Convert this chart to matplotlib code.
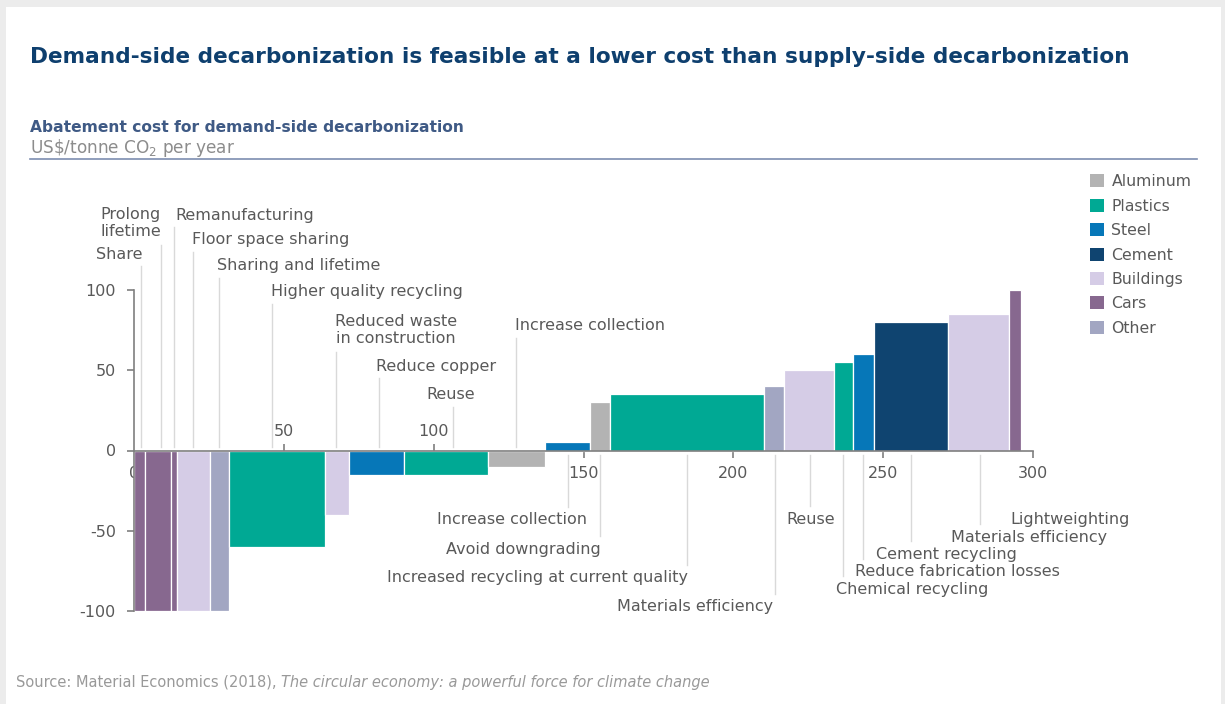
import matplotlib
matplotlib.use("Agg")
import matplotlib.pyplot as plt
from matplotlib.patches import Patch, Rectangle
from matplotlib.lines import Line2D
import numpy as np

# sector colours
palette = {
    "Aluminum": "#b3b3b3",
    "Plastics": "#00a994",
    "Steel": "#0677b8",
    "Cement": "#0f4470",
    "Buildings": "#d5cce6",
    "Cars": "#87688f",
    "Other": "#a2a6c2",
}

# abatement levers, sorted by cost
sectors = ["Cars", "Cars", "Cars", "Buildings", "Other", "Plastics", "Buildings",
           "Steel", "Plastics", "Aluminum", "Steel", "Aluminum", "Plastics", "Other",
           "Buildings", "Plastics", "Steel", "Cement", "Buildings", "Cars"]
measures = ["Share", "Prolong\nlifetime", "Remanufacturing", "Floor space sharing",
            "Sharing and lifetime", "Higher quality recycling",
            "Reduced waste\nin construction", "Reduce copper", "Reuse",
            "Increase collection", "Increase collection", "Avoid downgrading",
            "Increased recycling at current quality", "Materials efficiency", "Reuse",
            "Chemical recycling", "Reduce fabrication losses", "Cement recycling",
            "Materials efficiency", "Lightweighting"]
# abatement volume (bar width) and cost in US$/tonne CO2 (bar height)
volume = [3.6, 8.7, 2.2, 10.8, 6.5, 31.8, 8.0, 18.6, 27.8, 19.2,
          15.1, 6.7, 51.4, 6.6, 16.5, 6.5, 7.0, 24.7, 20.3, 4.0]
cost = [-100, -100, -100, -100, -100, -60, -40, -15, -15, -10,
        5, 30, 35, 40, 50, 55, 60, 80, 85, 100]

# where each lever name sits and where its leader line drops
label_x = [3.0, 9.0, 13.7, 19.4, 27.7, 45.7, 67.1, 80.8, 105.8, 127.2,
           151.3, 155.9, 185.0, 213.4, 225.7, 234.4, 240.7, 247.7, 272.5, 292.5]
label_y = [122.4, 141.7, 146.7, 131.2, 115.0, 98.8, 75.1, 52.6, 34.6, 77.6,
           -43.3, -61.4, -79.4, -97.5, -42.7, -86.3, -75.7, -64.5, -53.9, -42.7]
label_ha = ["right", "right", "left", "left", "left", "left", "left", "left", "center", "left",
            "right", "right", "right", "right", "center", "left", "left", "left", "left", "left"]
leader_x = [2.2, 8.9, 13.5, 19.8, 28.5, 46.0, 67.4, 81.6, 106.3, 127.4,
            144.7, 155.6, 184.6, 213.8, 225.7, 236.6, 243.2, 259.2, 282.4, None]

legend_order = ["Aluminum", "Plastics", "Steel", "Cement", "Buildings", "Cars", "Other"]

W, H = 1225, 704
TEXT = "#595959"
fig = plt.figure(figsize=(W / 100, H / 100), dpi=100, facecolor="#ececec")
plt.rcParams["font.family"] = ["DejaVu Sans"]

# white card with a soft shadow
fig.patches.append(Rectangle((8 / W, 0), (1216 - 8) / W + 5 / W, 1 - 9 / H, transform=fig.transFigure,
                             facecolor="#d4d4d4", edgecolor="none", zorder=-10))
fig.patches.append(Rectangle((6 / W, 0), (1221 - 6) / W, 1 - 7 / H, transform=fig.transFigure,
                             facecolor="white", edgecolor="none", zorder=-9))

fig.text(30 / W, 1 - 57 / H,
         "Demand-side decarbonization is feasible at a lower cost than supply-side decarbonization",
         fontsize=15.6, fontweight="bold", color="#0e3f6e", va="center", ha="left")
fig.text(30 / W, 1 - 128 / H, "Abatement cost for demand-side decarbonization",
         fontsize=11.15, fontweight="bold", color="#3f5a85", va="center")
fig.text(30 / W, 1 - 148 / H, r"US\$/tonne CO$_2$ per year",
         fontsize=12.2, color="#8c8c8c", va="center")
fig.add_artist(Line2D([30 / W, 1197 / W], [1 - 159 / H] * 2, color="#7d8db0", lw=1.2))

ax = fig.add_axes([134 / W, 1 - 611 / H, 899 / W, (611 - 290) / H])
ax.patch.set_alpha(0)
ax.set_xlim(0, 300)
ax.set_ylim(-100, 100)

left = np.concatenate([[0], np.cumsum(volume)[:-1]])
colors = [palette[s] for s in sectors]
ax.bar(left, cost, width=volume, align="edge", color=colors,
       edgecolor="white", linewidth=0.9, zorder=2)

# leader lines and lever names
for i, name in enumerate(measures):
    n_lines = name.count("\n") + 1
    if cost[i] < 0:
        y0, y1 = 2.4, label_y[i] - 7.5 - 6.2 * (n_lines - 1)
    else:
        y0, y1 = -3.0, label_y[i] + 8
    if leader_x[i] is not None:
        ax.plot([leader_x[i], leader_x[i]], [y0, y1], color="#d9d9d9", lw=1.0,
                clip_on=False, zorder=1)
    ax.text(label_x[i], label_y[i], name, ha=label_ha[i], va="center",
            multialignment="center", fontsize=11.5, color=TEXT, linespacing=1.2)

# axes styling
for side in ["top", "right"]:
    ax.spines[side].set_visible(False)
ax.spines["bottom"].set_position(("data", 0))
ax.spines["left"].set_bounds(-100, 100)
for side in ["bottom", "left"]:
    ax.spines[side].set_color("#7f7f7f")
    ax.spines[side].set_linewidth(1.2)
    ax.spines[side].set_zorder(3)

ax.set_yticks([-100, -50, 0, 50, 100])
ax.set_yticklabels(["-100", "-50", "0", "50", "100"])
ax.tick_params(axis="y", length=5, width=1.2, color="#7f7f7f", labelsize=11.5,
               labelcolor=TEXT, pad=8)

ax.set_xticks([0, 150, 200, 250, 300])
ax.set_xticklabels(["0", "150", "200", "250", "300"])
ax.set_xticks([50, 100], labels=["50", "100"], minor=True)
ax.tick_params(axis="x", which="major", length=5, width=1.2, color="#7f7f7f",
               labelsize=11.5, labelcolor=TEXT, pad=6)
ax.tick_params(axis="x", which="minor", direction="in", length=5, width=1.2,
               color="#7f7f7f", labelsize=11.5, labelcolor=TEXT, pad=-19)
ax.xaxis.get_major_ticks()[0].tick1line.set_visible(False)

handles = [Patch(facecolor=palette[k], edgecolor="none", label=k) for k in legend_order]
fig.legend(handles=handles, loc="upper left", bbox_to_anchor=(1084 / W, 1 - 168 / H),
           frameon=False, fontsize=11.3, labelcolor=TEXT, handlelength=0.9,
           handleheight=0.9, handletextpad=0.45, labelspacing=0.6, borderaxespad=0)

# source line, title of the report in italics
src = fig.text(16 / W, 1 - 682 / H, "Source: Material Economics (2018), ",
               fontsize=10.5, color="#999999", va="center")
fig.canvas.draw()
bb = src.get_window_extent()
fig.text(bb.x1 / W, 1 - 682 / H,
         "The circular economy: a powerful force for climate change",
         fontsize=10.5, color="#999999", va="center", style="italic")

fig.savefig("out.png", dpi=100, facecolor=fig.get_facecolor())
